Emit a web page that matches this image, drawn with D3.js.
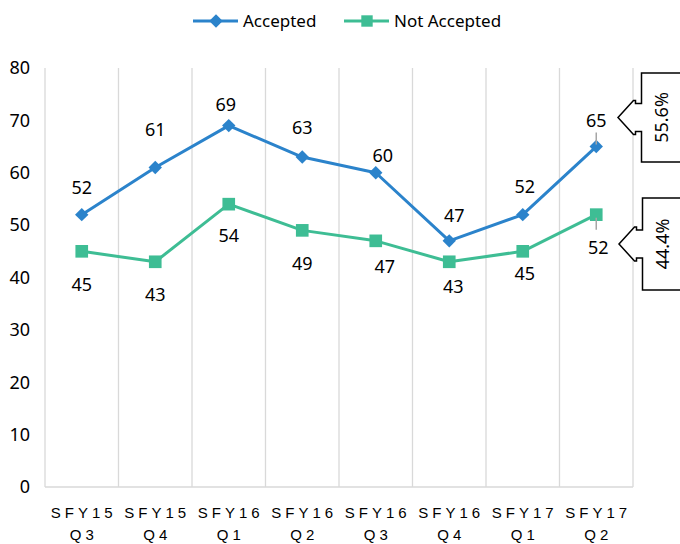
<!DOCTYPE html>
<html>
<head>
<meta charset="utf-8">
<script src="https://cdn.jsdelivr.net/npm/d3@7"></script>
<style>
  body { margin: 0; background: #fff; }
  svg { font-family: "Noto Sans", "Liberation Sans", sans-serif; }
</style>
</head>
<body>
<svg width="680" height="544"></svg>
<script>
// quarters on the x axis (two lines each)
var quarters = ["SFY15 Q3", "SFY15 Q4", "SFY16 Q1", "SFY16 Q2", "SFY16 Q3", "SFY16 Q4", "SFY17 Q1", "SFY17 Q2"];
var accepted = [52, 61, 69, 63, 60, 47, 52, 65];
var notAccepted = [45, 43, 54, 49, 47, 43, 45, 52];
var yTicks = [0, 10, 20, 30, 40, 50, 60, 70, 80];
var seriesNames = ["Accepted", "Not Accepted"];
var shareLabels = ["55.6%", "44.4%"];

// label nudges (px) so the data labels sit where excel put them
var acceptedLabelShift = [[0, -27], [0, -38], [-3, -21], [0, -29], [7, -17], [5, -25], [2, -28], [0, -26]];
var notAcceptedLabelShift = [[0, 33], [0, 33], [0, 32], [0, 33], [9, 26], [4, 25], [2, 22], [2, 33]];

var colors = { accepted: "#2b83cb", notAccepted: "#3ebd94" };

var svg = d3.select("svg");

var margin = { top: 68, left: 45, right: 47, bottom: 57 };
var width = 680 - margin.left - margin.right;
var height = 544 - margin.top - margin.bottom;

var x = d3.scaleBand().domain(quarters).range([0, width]);
var y = d3.scaleLinear().domain([0, 80]).range([height, 0]);

var plot = svg.append("g").attr("transform", "translate(" + margin.left + "," + margin.top + ")");

// vertical gridlines between categories
var edges = quarters.map(function(q) { return x(q); }).concat([width]);
plot.selectAll("line.grid")
  .data(edges)
  .enter().append("line")
  .attr("class", "grid")
  .attr("x1", function(d) { return d; })
  .attr("x2", function(d) { return d; })
  .attr("y1", 0)
  .attr("y2", height)
  .attr("stroke", "#d9d9d9")
  .attr("stroke-width", 1.3);

// bottom axis line
plot.append("line")
  .attr("x1", 0).attr("x2", width)
  .attr("y1", height).attr("y2", height)
  .attr("stroke", "#d9d9d9")
  .attr("stroke-width", 1.3);

// y axis
var yAxis = d3.axisLeft(y).tickValues(yTicks).tickSize(0).tickPadding(15);
var yGroup = plot.append("g").call(yAxis);
yGroup.select(".domain").remove();
yGroup.selectAll("text")
  .attr("font-size", 18)
  .attr("fill", "#000")
  .style("font-family", "Noto Sans");

// x axis (two line labels, letter spaced)
var xAxis = d3.axisBottom(x).tickSize(0).tickFormat("");
var xGroup = plot.append("g").attr("transform", "translate(0," + height + ")").call(xAxis);
xGroup.select(".domain").remove();
xGroup.selectAll(".tick").each(function(d) {
  var parts = d.split(" ");
  var t = d3.select(this).append("text")
    .attr("text-anchor", "middle")
    .attr("font-size", 15)
    .attr("fill", "#000")
    .style("letter-spacing", "4px");
  t.append("tspan").attr("x", 2).attr("y", 31).text(parts[0]);
  t.append("tspan").attr("x", 2).attr("y", 53).text(parts[1]);
});

// marker shapes: a diamond is a square turned 45 degrees
var markerPath = function(kind, size) {
  return d3.symbol().type(d3.symbolSquare).size(size)();
};
var markerRotate = function(kind) { return kind === "diamond" ? " rotate(45)" : ""; };

// draw one series
var drawSeries = function(values, color, kind, shifts) {
  var line = d3.line()
    .x(function(d, i) { return x(quarters[i]) + x.bandwidth() / 2; })
    .y(function(d) { return y(d); });

  plot.append("path")
    .datum(values)
    .attr("d", line)
    .attr("fill", "none")
    .attr("stroke", color)
    .attr("stroke-width", 3)
    .attr("stroke-linejoin", "round");

  plot.selectAll(null)
    .data(values)
    .enter().append("path")
    .attr("d", markerPath(kind, kind === "diamond" ? 90 : 160))
    .attr("transform", function(d, i) {
      return "translate(" + (x(quarters[i]) + x.bandwidth() / 2) + "," + y(d) + ")" + markerRotate(kind);
    })
    .attr("fill", color);

  plot.selectAll(null)
    .data(values)
    .enter().append("text")
    .attr("x", function(d, i) { return x(quarters[i]) + x.bandwidth() / 2 + shifts[i][0]; })
    .attr("y", function(d, i) { return y(d) + shifts[i][1]; })
    .attr("dy", "0.35em")
    .attr("text-anchor", "middle")
    .attr("font-size", 18)
    .attr("fill", "#000")
    .text(function(d) { return d; });
};

drawSeries(accepted, colors.accepted, "diamond", acceptedLabelShift);
drawSeries(notAccepted, colors.notAccepted, "square", notAcceptedLabelShift);

// leader lines for the last pair of labels
var lastQ = quarters[quarters.length - 1];
var lx = x(lastQ) + x.bandwidth() / 2;
plot.append("line")
  .attr("x1", lx).attr("x2", lx)
  .attr("y1", y(accepted[7]) - 14).attr("y2", y(accepted[7]) - 2)
  .attr("stroke", "#a6a6a6").attr("stroke-width", 1.5);
plot.append("line")
  .attr("x1", lx).attr("x2", lx)
  .attr("y1", y(notAccepted[7]) + 3).attr("y2", y(notAccepted[7]) + 15)
  .attr("stroke", "#a6a6a6").attr("stroke-width", 1.5);

// callouts with shares on the right
var callouts = [
  { text: shareLabels[0], left: 641.5, top: 73, bottom: 162 },
  { text: shareLabels[1], left: 642.5, top: 198, bottom: 290 }
];
callouts.forEach(function(c) {
  var cy = (c.top + c.bottom) / 2;
  var L = c.left, R = 700;
  var p = d3.path();
  p.moveTo(R, c.top);
  p.lineTo(L, c.top);
  p.lineTo(L, cy - 14);
  p.lineTo(L - 6, cy - 14);
  p.lineTo(L - 6, cy - 17);
  p.lineTo(L - 8, cy - 17);
  p.lineTo(L - 23.5, cy);
  p.lineTo(L - 8, cy + 17);
  p.lineTo(L - 6, cy + 17);
  p.lineTo(L - 6, cy + 14);
  p.lineTo(L, cy + 14);
  p.lineTo(L, c.bottom);
  p.lineTo(R, c.bottom);
  p.closePath();
  svg.append("path")
    .attr("d", p.toString())
    .attr("fill", "#fff")
    .attr("stroke", "#000")
    .attr("stroke-width", 1.5);
  svg.append("text")
    .attr("transform", "translate(" + (L + 20) + "," + cy + ") rotate(-90)")
    .attr("text-anchor", "middle")
    .attr("dy", "0.35em")
    .attr("font-size", 18)
    .attr("fill", "#000")
    .text(c.text);
});

// legend
var legendItems = [
  { name: seriesNames[0], color: colors.accepted, kind: "diamond", size: 90, x: 193 },
  { name: seriesNames[1], color: colors.notAccepted, kind: "square", size: 130, x: 344 }
];
var legend = svg.append("g").attr("transform", "translate(0,21)");
legendItems.forEach(function(item) {
  var g = legend.append("g").attr("transform", "translate(" + item.x + ",0)");
  g.append("line").attr("x1", 0).attr("x2", 45).attr("y1", 0).attr("y2", 0)
    .attr("stroke", item.color).attr("stroke-width", 3);
  g.append("path").attr("d", markerPath(item.kind, item.size))
    .attr("transform", "translate(23,0)" + markerRotate(item.kind))
    .attr("fill", item.color);
  g.append("text").attr("x", 50).attr("dy", "0.35em")
    .attr("font-size", 17).attr("fill", "#000")
    .text(item.name);
});
</script>
</body>
</html>
